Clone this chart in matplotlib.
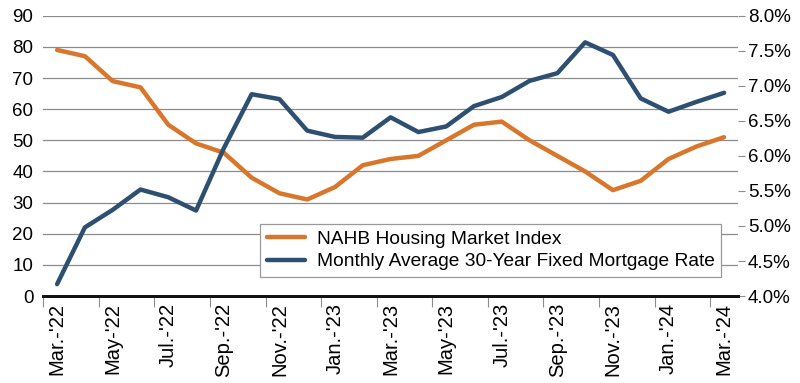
"""NAHB housing market index vs 30-year fixed mortgage rate, Mar 2022 - Mar 2024."""

import matplotlib

matplotlib.use("Agg")
import matplotlib.pyplot as plt

months = [
    "Mar.-'22", "Apr.-'22", "May-'22", "Jun.-'22", "Jul.-'22", "Aug.-'22",
    "Sep.-'22", "Oct.-'22", "Nov.-'22", "Dec.-'22", "Jan.-'23", "Feb.-'23",
    "Mar.-'23", "Apr.-'23", "May-'23", "Jun.-'23", "Jul.-'23", "Aug.-'23",
    "Sep.-'23", "Oct.-'23", "Nov.-'23", "Dec.-'23", "Jan.-'24", "Feb.-'24",
    "Mar.-'24",
]
nahb_index = [79, 77, 69, 67, 55, 49, 46, 38, 33, 31, 35, 42, 44, 45, 50, 55, 56,
              50, 45, 40, 34, 37, 44, 48, 51]
mortgage_rate = [4.17, 4.98, 5.23, 5.52, 5.41, 5.22, 6.11, 6.88, 6.81, 6.36, 6.27,
                 6.26, 6.55, 6.34, 6.42, 6.71, 6.84, 7.07, 7.18, 7.62, 7.44, 6.82,
                 6.63, 6.77, 6.90]

ORANGE = "#D8772C"
BLUE = "#2E5070"
FONT = ["Liberation Sans", "DejaVu Sans"]

plt.rcParams["font.family"] = FONT

fig = plt.figure(figsize=(8, 3.83), dpi=100)
ax = fig.add_axes([0.054, 0.227, 0.8685, 0.732])
ax2 = ax.twinx()

x = list(range(len(months)))
ax.plot(x, nahb_index, color=ORANGE, lw=3.2, solid_capstyle="round",
        label="NAHB Housing Market Index", zorder=3)
ax2.plot(x, mortgage_rate, color=BLUE, lw=3.2, solid_capstyle="round",
         label="Monthly Average 30-Year Fixed Mortgage Rate", zorder=3)

ax.set_xlim(-0.5, len(months) - 0.5)
ax.set_ylim(0, 90)
ax.set_yticks(range(0, 91, 10))
ax2.set_ylim(4.0, 8.0)
ax2.set_yticks([4.0 + 0.5 * i for i in range(9)])
ax2.set_yticklabels([f"{4.0 + 0.5 * i:.1f}%" for i in range(9)])

ax.grid(axis="y", color="#8c8c8c", lw=0.9)
ax.set_axisbelow(True)

# ticks between categories, labels on every other month
ax.set_xticks([i - 0.5 for i in range(0, len(months), 2)])
ax.set_xticklabels([])
ax.set_xticks(list(range(0, len(months), 2)), minor=True)
ax.set_xticklabels(months[::2], minor=True, rotation=90, fontsize=14.5)
ax.tick_params(axis="x", which="major", length=8, width=0.8, color="#8c8c8c")
ax.tick_params(axis="x", which="minor", length=0, pad=5)

ax.tick_params(axis="y", length=0, labelsize=13.5, pad=7)
ax2.tick_params(axis="y", length=5, width=0.8, color="#8c8c8c", labelsize=13.5, pad=2)

for a in (ax, ax2):
    for side in ("top", "left", "right"):
        a.spines[side].set_visible(False)
    a.spines["bottom"].set_linewidth(2)
    a.spines["bottom"].set_color("#111111")

handles = ax.get_lines() + ax2.get_lines()
leg = ax2.legend(handles, [h.get_label() for h in handles], loc="lower right",
                 bbox_to_anchor=(0.976, 0.068), fontsize=13.8, fancybox=False,
                 framealpha=1, edgecolor="#999999", handlelength=2.0,
                 borderpad=0.35, labelspacing=0.25, handletextpad=0.6,
                 borderaxespad=0)
leg.get_frame().set_linewidth(0.9)

fig.savefig("out.png", dpi=100)
